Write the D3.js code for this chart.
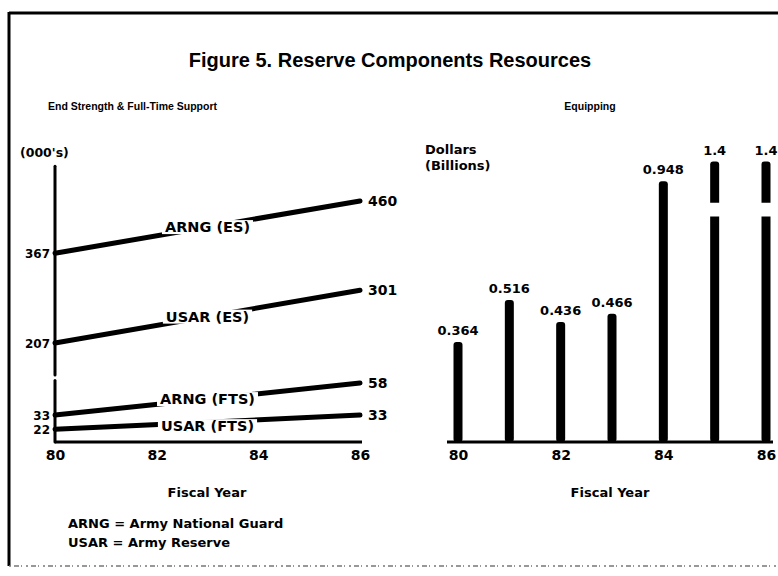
<!DOCTYPE html>
<html>
<head>
<meta charset="utf-8">
<script src="https://cdn.jsdelivr.net/npm/d3@7"></script>
<style>
  body { margin: 0; background: #fff; }
  svg text { font-family: "DejaVu Sans", sans-serif; font-weight: bold; fill: #000; }
  svg text.lib { font-family: "Liberation Sans", Arial, sans-serif; }
</style>
</head>
<body>
<svg id="chart" width="778" height="576"></svg>
<script>
// left panel: end strength & full-time support (000's)
var years = [80, 86];
var yearTicks = [80, 82, 84, 86];
var arngES = [367, 460];
var usarES = [207, 301];
var arngFTS = [33, 58];
var usarFTS = [22, 33];

// right panel: equipping ($ billions)
var equipYears = [80, 81, 82, 83, 84, 85, 86];
var equipValues = [0.364, 0.516, 0.436, 0.466, 0.948, 1.4, 1.4];
var equipLabels = ["0.364", "0.516", "0.436", "0.466", "0.948", "1.4", "1.4"];
var equipBreak = 1.02; // bars above this are drawn broken

var svg = d3.select("#chart");

// frame of the scanned page
svg.append("line").attr("x1", 9).attr("y1", 13).attr("x2", 778).attr("y2", 13)
	.attr("stroke", "#000").attr("stroke-width", 3);
svg.append("line").attr("x1", 9).attr("y1", 12).attr("x2", 9).attr("y2", 566)
	.attr("stroke", "#000").attr("stroke-width", 3);
svg.append("line").attr("x1", 9).attr("y1", 566).attr("x2", 778).attr("y2", 566)
	.attr("stroke", "#777").attr("stroke-width", 1.5).attr("stroke-dasharray", "2 3 5 2 1 4");

svg.append("text").attr("class", "lib").attr("x", 390).attr("y", 67).attr("text-anchor", "middle")
	.attr("font-size", 20).text("Figure 5. Reserve Components Resources");
svg.append("text").attr("class", "lib").attr("x", 48).attr("y", 110).attr("font-size", 10.5)
	.text("End Strength & Full-Time Support");
svg.append("text").attr("class", "lib").attr("x", 590).attr("y", 110).attr("text-anchor", "middle")
	.attr("font-size", 10.5).text("Equipping");

// ---------- left panel ----------
var x = d3.scaleLinear().domain([80, 86]).range([55, 360]);
// broken axis: upper segment for end strength, lower for full-time support
var yTop = d3.scaleLinear().domain([207, 460]).range([343, 201]);
var yBot = d3.scaleLinear().domain([12, 60]).range([442, 380.5]);

var left = svg.append("g");

left.append("line").attr("x1", x(80)).attr("x2", x(80))
	.attr("y1", yTop(522)).attr("y2", yTop(150))
	.attr("stroke", "#000").attr("stroke-width", 3).attr("stroke-linecap", "round");
left.append("line").attr("x1", x(80)).attr("x2", x(80))
	.attr("y1", yBot(60)).attr("y2", yBot(12))
	.attr("stroke", "#000").attr("stroke-width", 3).attr("stroke-linecap", "round");

var xAxis = d3.axisBottom(x).tickValues(yearTicks).tickSize(0).tickPadding(8)
	.tickFormat(function(d) { return d; });
var gx = left.append("g").attr("transform", "translate(0," + yBot(12) + ")").call(xAxis);
gx.select(".domain").attr("stroke-width", 3).attr("d", "M" + x(80) + ",0H" + (x(86) + 2));
gx.selectAll("text").attr("font-size", 14).attr("font-family", "DejaVu Sans").attr("font-weight", "bold");

left.append("text").attr("x", 20).attr("y", 157).attr("font-size", 12.5).text("(000's)");

var series = [
	{ name: "ARNG (ES)", values: arngES, y: yTop },
	{ name: "USAR (ES)", values: usarES, y: yTop },
	{ name: "ARNG (FTS)", values: arngFTS, y: yBot },
	{ name: "USAR (FTS)", values: usarFTS, y: yBot }
];

var line = function(s) {
	return d3.line().x(function(d, i) { return x(years[i]); })
		.y(function(d) { return s.y(d); })(s.values);
};

series.forEach(function(s) {
	left.append("path").attr("d", line(s)).attr("fill", "none")
		.attr("stroke", "#000").attr("stroke-width", 5).attr("stroke-linecap", "round");
});

series.forEach(function(s, k) {
	// label sits in a gap of the line at FY83
	var mx = x(83);
	var my = s.y(s.values[0]) + (s.y(s.values[1]) - s.y(s.values[0])) / 2;
	if (k == 3) my += 4;
	var g = left.append("g");
	var t = g.append("text").attr("x", mx).attr("y", my + 5).attr("text-anchor", "middle")
		.attr("font-size", 14.5).text(s.name);
	var bb = t.node().getBBox();
	g.insert("rect", "text").attr("x", bb.x - 3).attr("y", bb.y + 1)
		.attr("width", bb.width + 6).attr("height", bb.height - 2).attr("fill", "#fff");

	left.append("text").attr("x", x(80) - 5).attr("y", s.y(s.values[0]) + 4.5)
		.attr("text-anchor", "end").attr("font-size", 12).text(s.values[0]);
	left.append("text").attr("x", x(86) + 8).attr("y", s.y(s.values[1]) + 5)
		.attr("font-size", 14).text(s.values[1]);
});

left.append("text").attr("x", 207).attr("y", 497).attr("text-anchor", "middle")
	.attr("font-size", 13).text("Fiscal Year");
left.append("text").attr("x", 68).attr("y", 528).attr("font-size", 13)
	.text("ARNG = Army National Guard");
left.append("text").attr("x", 68).attr("y", 547).attr("font-size", 13)
	.text("USAR = Army Reserve");

// ---------- right panel ----------
var xr = d3.scaleLinear().domain([80, 86]).range([458, 766]);
var yr = d3.scaleLinear().domain([0, 1]).range([442, 167]);
var barW = 9;

var right = svg.append("g");

right.selectAll("rect.bar").data(equipValues).enter().append("rect")
	.attr("class", "bar")
	.attr("x", function(d, i) { return xr(equipYears[i]) - barW / 2; })
	.attr("y", function(d) { return yr(Math.min(d, equipBreak)); })
	.attr("width", barW)
	.attr("height", function(d) { return yr(0) - yr(Math.min(d, equipBreak)); })
	.attr("rx", 3)
	.attr("fill", "#000");

// axis break on the tall bars
right.selectAll("rect.gap").data(equipYears.filter(function(d, i) { return equipValues[i] > equipBreak; }))
	.enter().append("rect")
	.attr("class", "gap")
	.attr("x", function(d) { return xr(d) - barW; })
	.attr("y", yr(0.87)).attr("width", barW * 2).attr("height", yr(0.82) - yr(0.87))
	.attr("fill", "#fff");

right.selectAll("text.val").data(equipLabels).enter().append("text")
	.attr("class", "val")
	.attr("x", function(d, i) { return xr(equipYears[i]); })
	.attr("y", function(d, i) { return yr(Math.min(equipValues[i], equipBreak)) - 7; })
	.attr("text-anchor", "middle").attr("font-size", 13)
	.text(function(d) { return d; });

var xrAxis = d3.axisBottom(xr).tickValues(yearTicks).tickSize(0).tickPadding(8)
	.tickFormat(function(d) { return d; });
var gxr = right.append("g").attr("transform", "translate(0," + yr(0) + ")").call(xrAxis);
gxr.select(".domain").attr("stroke-width", 3).attr("d", "M" + (xr(80) - 11) + ",0H" + (xr(86) + 7));
gxr.selectAll("text").attr("font-size", 14).attr("font-family", "DejaVu Sans").attr("font-weight", "bold");

right.append("text").attr("x", 425).attr("y", 154).attr("font-size", 13).text("Dollars");
right.append("text").attr("x", 425).attr("y", 170).attr("font-size", 13).text("(Billions)");
right.append("text").attr("x", 610).attr("y", 497).attr("text-anchor", "middle")
	.attr("font-size", 13).text("Fiscal Year");
</script>
</body>
</html>
